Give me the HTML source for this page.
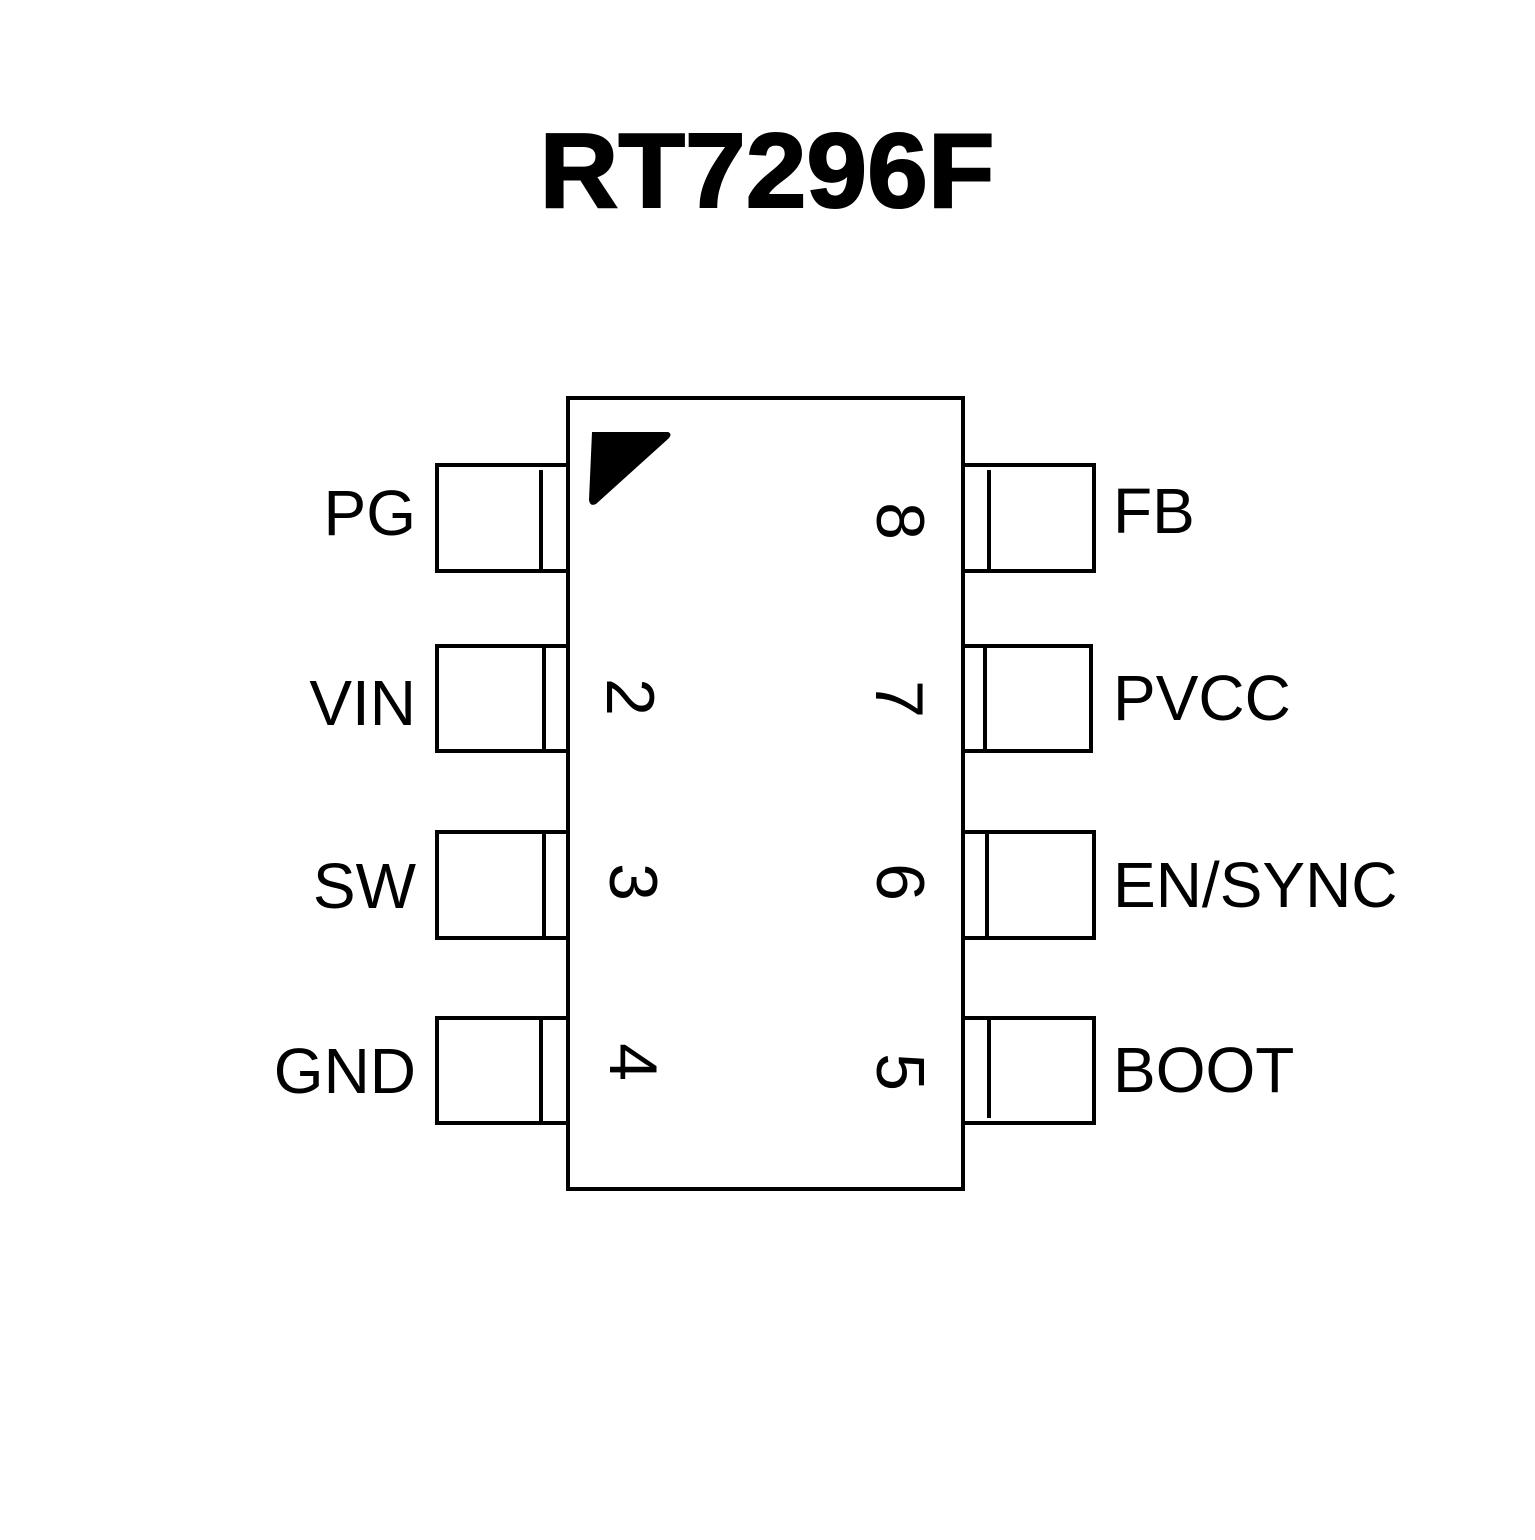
<!DOCTYPE html>
<html><head><style>body{margin:0;background:#fff}</style></head><body>
<svg width="1535" height="1535" viewBox="0 0 1535 1535" xmlns="http://www.w3.org/2000/svg">
<rect width="1535" height="1535" fill="#fff"/>
<text x="767" y="207" text-anchor="middle" font-family="Liberation Sans, sans-serif" font-weight="bold" font-size="106" textLength="455" lengthAdjust="spacingAndGlyphs" stroke="#000" stroke-width="2">RT7296F</text>
<g fill="none" stroke="#000" stroke-width="4">
<rect x="568" y="398" width="395" height="791"/>
<rect x="437" y="465" width="131" height="106"/>
<rect x="437" y="646" width="131" height="105"/>
<rect x="437" y="832" width="131" height="106"/>
<rect x="437" y="1018" width="131" height="105"/>
<line x1="541" y1="470" x2="541" y2="571"/>
<line x1="544" y1="646" x2="544" y2="751"/>
<line x1="544" y1="832" x2="544" y2="938"/>
<line x1="541" y1="1018" x2="541" y2="1123"/>
<rect x="963" y="465" width="131" height="106"/>
<rect x="963" y="646" width="128" height="105"/>
<rect x="963" y="832" width="131" height="106"/>
<rect x="963" y="1018" width="131" height="105"/>
<line x1="989" y1="470" x2="989" y2="571"/>
<line x1="985" y1="646" x2="985" y2="751"/>
<line x1="987" y1="832" x2="987" y2="938"/>
<line x1="989" y1="1018" x2="989" y2="1118"/>
</g>
<path d="M592 432 L668 432 Q673 434 668 439 L596 504 Q590 507 589 500 Z" fill="#000"/>
<g font-family="Liberation Sans, sans-serif" font-size="68" text-anchor="middle">
<text transform="translate(631,697) rotate(90)" y="24">2</text>
<text transform="translate(634,882) rotate(90)" y="24">3</text>
<text transform="translate(634,1062) rotate(90)" y="24">4</text>
<text transform="translate(901,521) rotate(90)" y="24">8</text>
<text transform="translate(900,699) rotate(90)" y="24">7</text>
<text transform="translate(901,882) rotate(90)" y="24">6</text>
<text transform="translate(901,1072) rotate(90)" y="24">5</text>
</g>
<g font-family="Liberation Sans, sans-serif" font-size="64">
<text x="416" y="535" text-anchor="end">PG</text>
<text x="416" y="725" text-anchor="end">VIN</text>
<text x="416" y="908" text-anchor="end">SW</text>
<text x="416" y="1093" text-anchor="end">GND</text>
<text x="1113" y="533">FB</text>
<text x="1113" y="720">PVCC</text>
<text x="1113" y="907">EN/SYNC</text>
<text x="1113" y="1092">BOOT</text>
</g>
</svg>
</body></html>
